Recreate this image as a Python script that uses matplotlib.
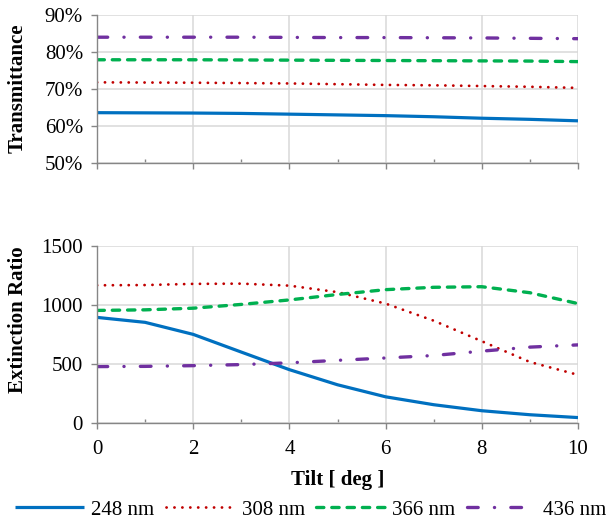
import numpy as np
import matplotlib
matplotlib.use("Agg")
import matplotlib.pyplot as plt
from matplotlib.ticker import MultipleLocator, FuncFormatter

plt.rcParams['font.family'] = ['Liberation Serif', 'DejaVu Serif']
plt.rcParams['lines.scale_dashes'] = False

# tilt angle [deg]
tilt = [0, 1, 2, 3, 4, 5, 6, 7, 8, 9, 10]

# transmittance [%]
trans_248 = [63.6, 63.55, 63.5, 63.4, 63.2, 63.0, 62.8, 62.5, 62.1, 61.8, 61.4]
trans_308 = [71.8, 71.75, 71.7, 71.6, 71.5, 71.3, 71.1, 71.0, 70.8, 70.6, 70.3]
trans_366 = [77.9, 77.9, 77.9, 77.85, 77.8, 77.75, 77.7, 77.65, 77.6, 77.55, 77.4]
trans_436 = [84.0, 84.0, 84.0, 84.0, 83.95, 83.9, 83.9, 83.85, 83.8, 83.7, 83.6]

# extinction ratio
ext_248 = [895, 853, 751, 601, 452, 324, 222, 155, 104, 70, 46]
ext_308 = [1167, 1169, 1179, 1181, 1164, 1109, 1012, 867, 693, 517, 408]
ext_366 = [954, 959, 973, 1005, 1043, 1089, 1130, 1150, 1155, 1104, 1012]
ext_436 = [478, 480, 486, 495, 510, 531, 551, 572, 609, 643, 662]

labels = ["248 nm", "308 nm", "366 nm", "436 nm"]
colors = ["#0070c0", "#c00000", "#00b050", "#7030a0"]
styles = [
  dict(linestyle='-', linewidth=2.3, solid_capstyle='butt'),
  dict(linestyle=(0, (0.1, 5.6)), linewidth=2.0, dash_capstyle='round'),
  dict(linestyle=(0, (5.3, 5.7)), linewidth=2.4, dash_capstyle='round'),
  dict(linestyle=(0, (7.7, 11.7, 0.1, 11.7)), linewidth=2.4, dash_capstyle='round'),
]

GRID_C = '#d9d9d9'
SPINE_C = '#868686'
FS = 15


def style_axes(ax):
  for s in ['top', 'right']:
    ax.spines[s].set_visible(False)
  for s in ['left', 'bottom']:
    ax.spines[s].set_color(SPINE_C)
    ax.spines[s].set_linewidth(1.0)
  ax.grid(True, color=GRID_C, linewidth=1.1)
  ax.set_axisbelow(True)
  ax.set_xlim(0, 10)
  ax.xaxis.set_major_locator(MultipleLocator(2))
  ax.xaxis.set_minor_locator(MultipleLocator(1))
  ax.tick_params(axis='both', which='major', direction='out', length=4.0, width=1.0,
                 color=SPINE_C, labelsize=FS)
  ax.tick_params(axis='x', which='minor', direction='in', length=2.8, width=1.0, color=SPINE_C)
  ax.tick_params(axis='y', which='major', pad=6)
  ax.tick_params(axis='x', which='major', pad=8)


fig = plt.figure(figsize=(6.07, 5.19), dpi=100)
ax1 = fig.add_axes([97 / 607, 1 - 163 / 519, 481 / 607, 148 / 519])
ax2 = fig.add_axes([97 / 607, 1 - 423 / 519, 481 / 607, 177 / 519])

for ys, c, st, lab in zip([trans_248, trans_308, trans_366, trans_436], colors, styles, labels):
  ax1.plot(tilt, ys, color=c, label=lab, **st)
for ys, c, st in zip([ext_248, ext_308, ext_366, ext_436], colors, styles):
  ax2.plot(tilt, ys, color=c, **st)

style_axes(ax1)
style_axes(ax2)

ax1.set_ylim(50, 90)
ax1.yaxis.set_major_locator(MultipleLocator(10))
ax1.yaxis.set_major_formatter(FuncFormatter(lambda v, p: f"{v:.0f}%"))
ax1.tick_params(axis='x', which='major', labelbottom=False)

ax2.set_ylim(0, 1500)
ax2.yaxis.set_major_locator(MultipleLocator(500))

fig.text(18 / 607, 1 - 88 / 519, "Transmittance", rotation=90, ha='center', va='center',
         fontsize=FS, fontweight='bold')
fig.text(18 / 607, 1 - 320 / 519, "Extinction Ratio", rotation=90, ha='center', va='center',
         fontsize=FS, fontweight='bold')
fig.text(338 / 607, 1 - 480 / 519, "Tilt [ deg ]", ha='center', va='center',
         fontsize=FS, fontweight='bold')

handles, labs = ax1.get_legend_handles_labels()
fig.legend(handles, labs, loc='center', bbox_to_anchor=(0.5 + 7 / 607, 1 - 510 / 519), ncol=4,
           frameon=False, fontsize=FS, handlelength=3.3, handletextpad=0.35,
           columnspacing=0.55, borderaxespad=0, borderpad=0)

fig.savefig("out.png", dpi=100)
